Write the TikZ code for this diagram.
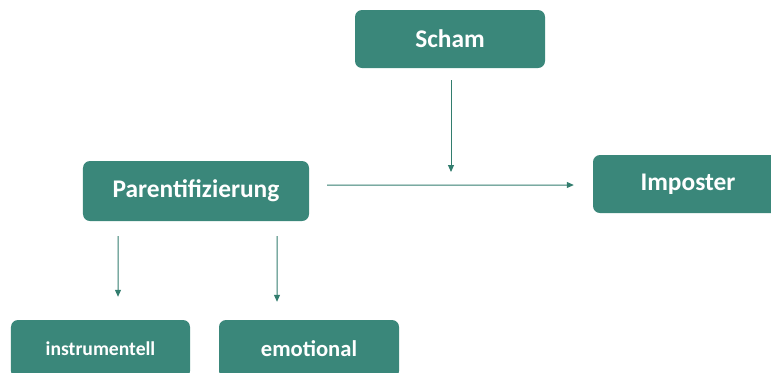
\documentclass[tikz,border=0pt]{standalone}
\usepackage{fontspec}
\setmainfont{Carlito}
\usetikzlibrary{arrows.meta}
\definecolor{teal1}{RGB}{58,135,122}
\definecolor{line1}{RGB}{50,125,110}
\tikzset{
  box/.style={fill=teal1, draw=none, rounded corners=7bp, text=white, font=\bfseries, inner sep=0pt, anchor=center},
  arr/.style={draw=line1, line width=1bp, -{Triangle[length=7bp,width=6bp]}}
}
\begin{document}
\begin{tikzpicture}[x=1bp,y=-1bp]
\useasboundingbox (0,0) rectangle (771,372);
\clip (0,0) rectangle (771,372);
\node[box, minimum width=190bp, minimum height=58bp, font=\bfseries\fontsize{25.5}{28}\selectfont] (s) at (450,39) {Scham};
\node[box, minimum width=226bp, minimum height=60bp, font=\bfseries\fontsize{25.5}{28}\selectfont] (p) at (196,191) {Parentifizierung};
\node[box, minimum width=190bp, minimum height=58bp, font=\bfseries\fontsize{25.5}{28}\selectfont] (im) at (688,184) {Imposter};
\node[box, minimum width=179bp, minimum height=58bp, font=\bfseries\fontsize{19.7}{22}\selectfont] (i) at (100.5,349) {instrumentell};
\node[box, minimum width=180bp, minimum height=58bp, font=\bfseries\fontsize{22.7}{25}\selectfont] (e) at (309,349) {emotional};
\coordinate (m) at (451,185);
\draw[arr, shorten <=18bp, shorten >=19bp] ([yshift=6bp]p.east) -- ([yshift=-1bp]im.west);
\draw[arr, shorten <=12bp, shorten >=13bp] ([xshift=1bp]s.south) -- (m);
\draw[arr, shorten <=15bp, shorten >=23bp] ([xshift=-78bp]p.south) -- ([xshift=17.5bp]i.north);
\draw[arr, shorten <=15bp, shorten >=18bp] ([xshift=81bp]p.south) -- ([xshift=-32bp]e.north);
\end{tikzpicture}
\end{document}
